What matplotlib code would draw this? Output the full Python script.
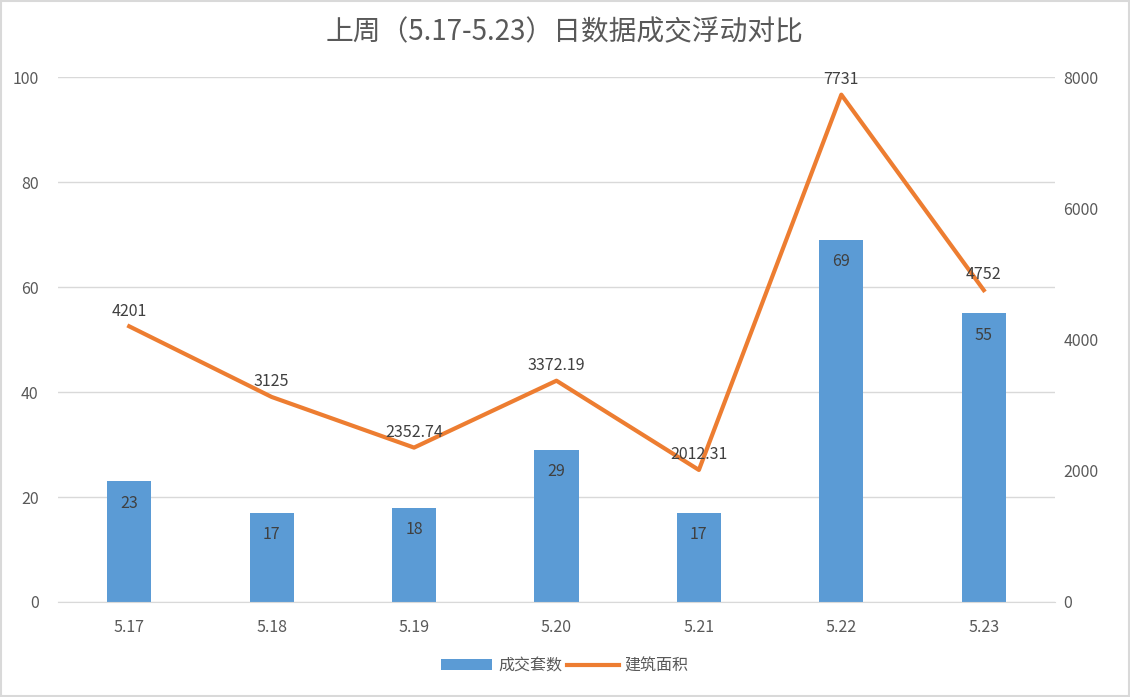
import numpy as np
import matplotlib
matplotlib.use("Agg")
import matplotlib.pyplot as plt
from matplotlib.patches import Rectangle

plt.rcParams["font.family"] = ["Noto Sans CJK SC", "DejaVu Sans"]

dates = ["5.17", "5.18", "5.19", "5.20", "5.21", "5.22", "5.23"]
deals = [23, 17, 18, 29, 17, 69, 55]
area = [4201, 3125, 2352.74, 3372.19, 2012.31, 7731, 4752]
area_labels = ["4201", "3125", "2352.74", "3372.19", "2012.31", "7731", "4752"]

BAR = "#5B9BD5"
LINE = "#ED7D31"
TXT = "#595959"
GRID = "#D9D9D9"

fig = plt.figure(figsize=(11.3, 6.97), dpi=100)
fig.patches.append(Rectangle((0.001, 0.001), 0.998, 0.997, transform=fig.transFigure,
                             fill=False, edgecolor="#D9D9D9", linewidth=1.5))
ax = fig.add_axes([0.0513, 0.1363, 0.8823, 0.7532])
x = np.arange(len(dates))
bars = ax.bar(x, deals, width=0.31, color=BAR, zorder=2)
ax.set_xlim(-0.5, len(dates) - 0.5)
ax.set_ylim(0, 100)
ax.set_yticks(range(0, 101, 20))
ax.grid(axis="y", color=GRID, linewidth=1, zorder=0)
ax.set_xticks(x)
ax.set_xticklabels(dates)
for s in ["top", "right", "left"]:
    ax.spines[s].set_visible(False)
ax.spines["bottom"].set_color(GRID)
ax.tick_params(length=0, colors=TXT, labelsize=11.5)
ax.tick_params(axis="x", pad=12)
ax.tick_params(axis="y", pad=14)
for xi, v in zip(x, deals):
    ax.annotate(str(v), (xi, v), xytext=(0, -16), textcoords="offset points",
                ha="center", va="center", fontsize=11.5, color="#404040", zorder=4)

ax2 = ax.twinx()
ax2.plot(x, area, color=LINE, linewidth=3, zorder=3)
ax2.set_ylim(0, 8000)
ax2.set_yticks(range(0, 8001, 2000))
for s in ax2.spines.values():
    s.set_visible(False)
ax2.tick_params(length=0, colors=TXT, labelsize=11.5, pad=6)
for xi, v, lab in zip(x, area, area_labels):
    ax2.annotate(lab, (xi, v), xytext=(0, 11), textcoords="offset points",
                 ha="center", va="center", fontsize=11.5, color="#404040")

fig.suptitle("上周（5.17-5.23）日数据成交浮动对比", y=0.975, fontsize=20, color=TXT)

handles = [bars, ax2.lines[0]]
fig.legend(handles, ["成交套数", "建筑面积"], loc="center", bbox_to_anchor=(0.5, 0.045),
           ncol=2, frameon=False, fontsize=11.5, labelcolor=TXT, handlelength=3.2,
           columnspacing=0.3, handletextpad=0.4)

fig.savefig("out.png", dpi=100)
